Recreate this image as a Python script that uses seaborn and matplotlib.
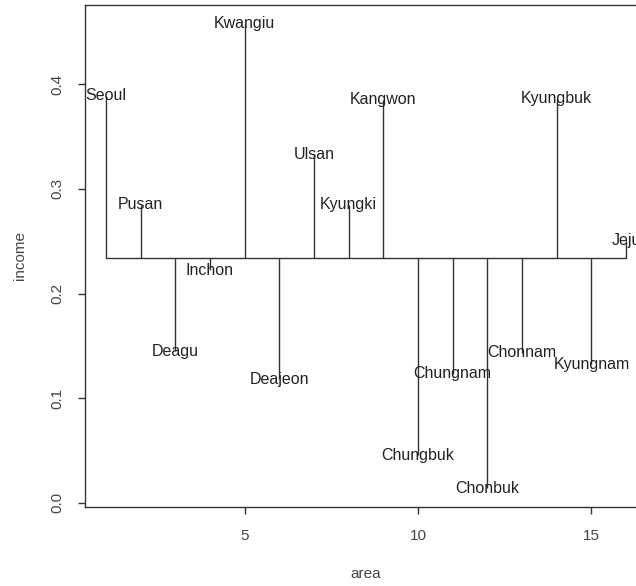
import numpy as np
import pandas as pd
import matplotlib
matplotlib.use("Agg")
import matplotlib.pyplot as plt
import seaborn as sns

regions = ["Seoul", "Pusan", "Deagu", "Inchon", "Kwangiu", "Deajeon", "Ulsan",
           "Kyungki", "Kangwon", "Chungbuk", "Chungnam", "Chonbuk", "Chonnam",
           "Kyungbuk", "Kyungnam", "Jeju"]
area = list(range(1, 17))
income = [0.389, 0.285, 0.1446, 0.222, 0.458, 0.118, 0.333, 0.285, 0.385,
          0.0453, 0.1233, 0.014, 0.1434, 0.386, 0.1322, 0.2506]
x_ticks = [5, 10, 15]
y_ticks = [0.0, 0.1, 0.2, 0.3, 0.4]

df = pd.DataFrame({"region": regions, "area": area, "income": income})
baseline = 0.2337

sns.set_style("ticks")
plt.rcParams["font.family"] = ["Liberation Sans", "DejaVu Sans"]

fig = plt.figure(figsize=(6.36, 5.86), dpi=100)
ax = fig.add_axes([85 / 636, 1 - 506.7 / 586, (647 - 85) / 636, (506.7 - 5) / 586])

ink = "#333333"
# horizontal reference line through the mean level
sns.lineplot(x=[df["area"].min(), df["area"].max()], y=[baseline, baseline],
             ax=ax, color=ink, linewidth=1.0)
# stems from the reference line to each region's value
ax.vlines(df["area"], baseline, df["income"], color=ink, linewidth=1.0)
for _, r in df.iterrows():
    ax.text(r["area"], r["income"], r["region"], ha="center", va="center",
            fontsize=11.5, color="#222222")

lo, hi = min(income), max(income)
pad = 0.04 * (hi - lo)
ax.set_ylim(lo - pad, hi + pad)
ax.set_xlim(1 - 0.04 * 15, 16 + 0.04 * 15)
ax.set_xticks(x_ticks)
ax.set_yticks(y_ticks)
ax.set_yticklabels([f"{v:.1f}" for v in y_ticks], rotation=90, va="center")
ax.tick_params(direction="out", length=5, width=1, colors=ink,
               labelsize=11, labelcolor="#444444")
ax.tick_params(axis="x", pad=11)
ax.tick_params(axis="y", pad=10)
for s in ax.spines.values():
    s.set_color(ink)
    s.set_linewidth(1.0)
ax.set_xlabel("area", fontsize=11, color="#444444", labelpad=17.5)
ax.set_ylabel("income", fontsize=11, color="#444444", labelpad=16.5)

fig.savefig("out.png", dpi=100)
